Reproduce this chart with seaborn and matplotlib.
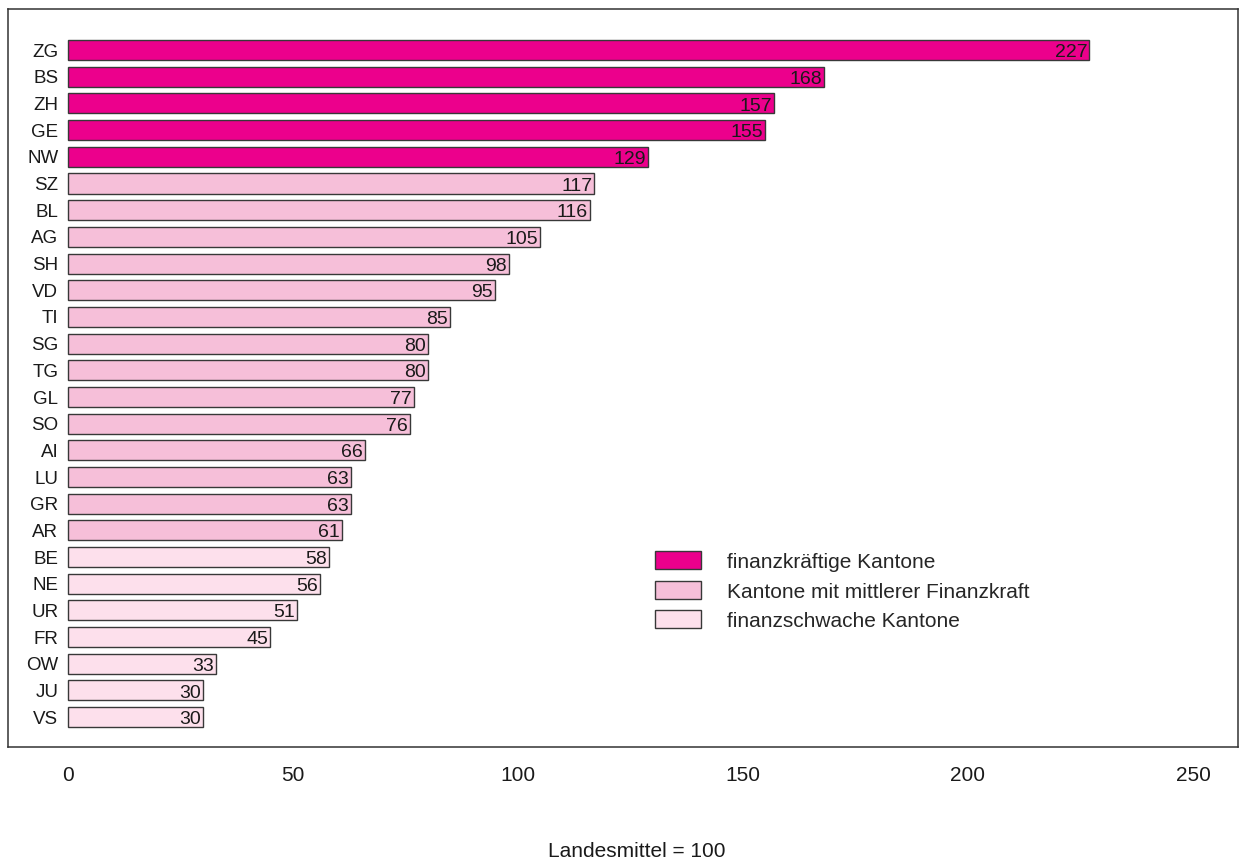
import matplotlib
matplotlib.use("Agg")
import matplotlib.pyplot as plt
from matplotlib.patches import Patch
import seaborn as sns
import pandas as pd

# Ressourcenindex der Kantone (Landesmittel = 100)
cantons = ["ZG", "BS", "ZH", "GE", "NW", "SZ", "BL", "AG", "SH", "VD", "TI", "SG", "TG",
           "GL", "SO", "AI", "LU", "GR", "AR", "BE", "NE", "UR", "FR", "OW", "JU", "VS"]
values = [227, 168, 157, 155, 129, 117, 116, 105, 98, 95, 85, 80, 80,
          77, 76, 66, 63, 63, 61, 58, 56, 51, 45, 33, 30, 30]
groups = ["stark"] * 5 + ["mittel"] * 14 + ["schwach"] * 7

group_labels = {
    "stark": "finanzkräftige Kantone",
    "mittel": "Kantone mit mittlerer Finanzkraft",
    "schwach": "finanzschwache Kantone",
}
palette = {"stark": "#EC008C", "mittel": "#F6BFD9", "schwach": "#FDE0EC"}
x_ticks = [0, 50, 100, 150, 200, 250]

df = pd.DataFrame({"Kanton": cantons, "Index": values, "Gruppe": groups})

sns.set_theme(style="white")
plt.rcParams["font.family"] = ["Liberation Sans", "DejaVu Sans"]

W, H = 1241, 862
fig = plt.figure(figsize=(W / 100, H / 100), dpi=100)
ax = fig.add_axes([8 / W, 1 - 748 / H, (1238 - 8) / W, (748 - 10) / H])

sns.barplot(data=df, x="Index", y="Kanton", hue="Gruppe", palette=palette,
            dodge=False, width=0.75, saturation=1, edgecolor="#383838",
            linewidth=1.0, legend=False, ax=ax)

n = len(cantons)
ax.set_xlim(-13.3, 260)
ax.set_ylim(n - 1 + 1.12, -1.54)

# value labels at the end of each bar
for i, v in enumerate(values):
    ax.text(v - 0.5, i + 0.06, str(v), ha="right", va="center",
            fontsize=14, color="#1a1a1a")

# canton labels inside the frame
ax.set_yticks([])
ax.set_ylabel("")
for i, c in enumerate(cantons):
    ax.text(-2.1, i + 0.04, c, ha="right", va="center", fontsize=13.5, color="#1a1a1a")

ax.set_xticks(x_ticks)
ax.set_xticklabels([str(t) for t in x_ticks], fontsize=15, color="#1a1a1a")
ax.tick_params(axis="x", length=0, pad=13)
ax.set_xlabel("")

for s in ax.spines.values():
    s.set_visible(True)
    s.set_color("#333333")
    s.set_linewidth(1.1)

fig.text(637 / W, 1 - 852 / H, "Landesmittel = 100", ha="center", va="center",
         fontsize=15, color="#1a1a1a")

handles = [Patch(facecolor=palette[g], edgecolor="#383838", linewidth=1.0)
           for g in ["stark", "mittel", "schwach"]]
labels = [group_labels[g] for g in ["stark", "mittel", "schwach"]]
fig.legend(handles, labels, loc="upper left", bbox_to_anchor=(653 / W, 1 - 550 / H),
           frameon=False, fontsize=15, handlelength=2.2, handleheight=0.95,
           handletextpad=1.25, labelspacing=0.45, borderaxespad=0, borderpad=0.1)

fig.savefig("out.png", dpi=100)
